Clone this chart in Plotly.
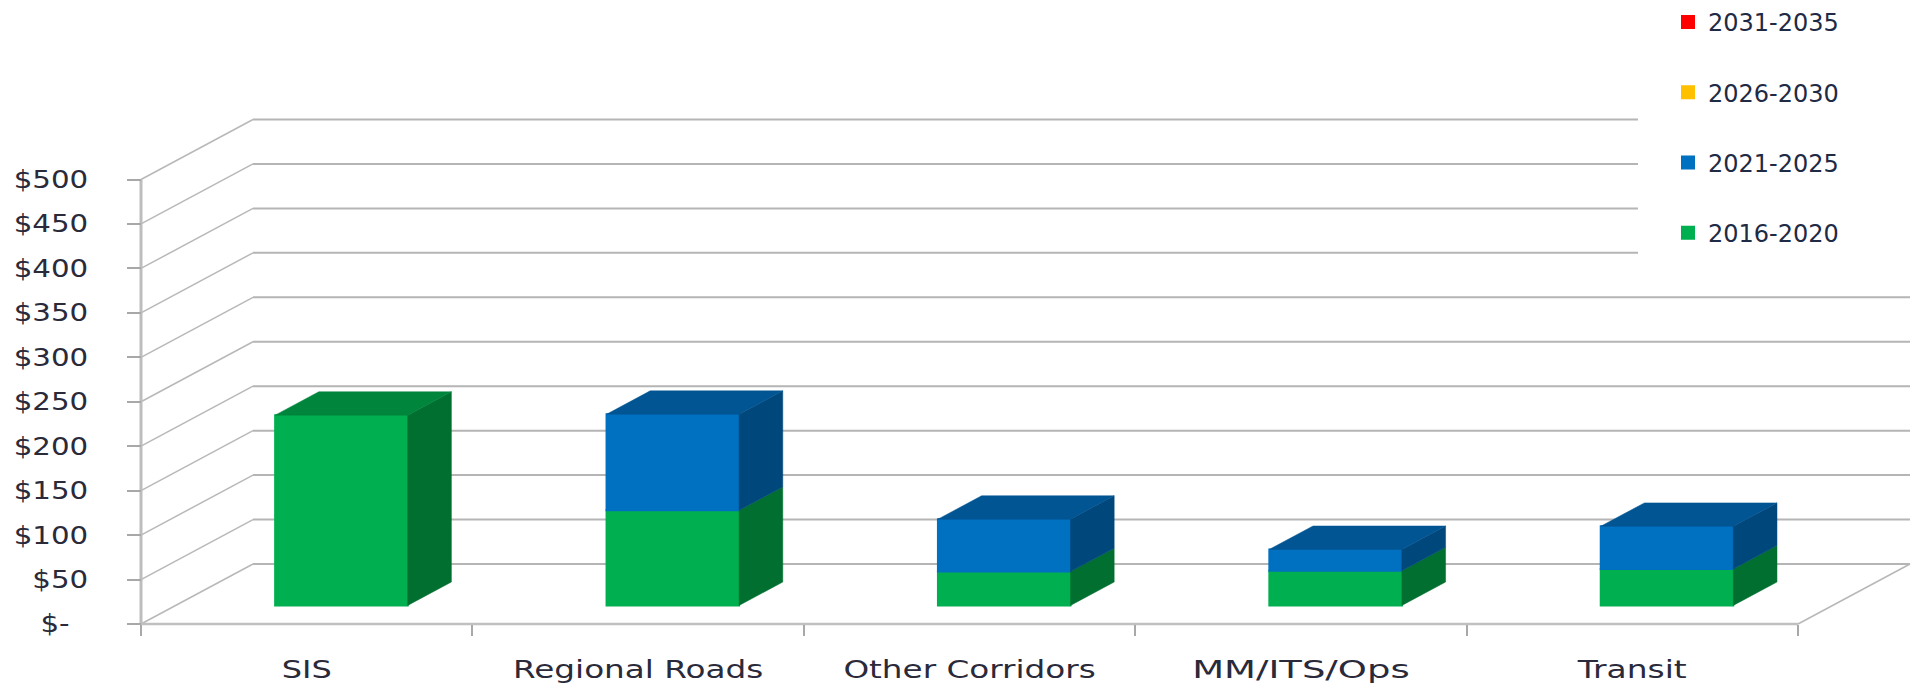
import plotly.graph_objects as go

categories = ["SIS", "Regional Roads", "Other Corridors", "MM/ITS/Ops", "Transit"]
periods = ["2016-2020", "2021-2025", "2026-2030", "2031-2035"]
v_2016_2020 = [214, 107, 38, 39, 41]
v_2021_2025 = [0, 108, 59, 24, 48]
v_2026_2030 = [0, 0, 0, 0, 0]
v_2031_2035 = [0, 0, 0, 0, 0]
series = [v_2016_2020, v_2021_2025, v_2026_2030, v_2031_2035]
y_ticks = [0, 50, 100, 150, 200, 250, 300, 350, 400, 450, 500]
y_labels = ["$-\u00a0\u00a0", "$50", "$100", "$150", "$200", "$250", "$300", "$350", "$400", "$450", "$500"]

front = ["#00B050", "#0070C0", "#FFC000", "#FF0000"]
side = ["#006F2F", "#00477C", "#A67C00", "#A60000"]
top = ["#00853D", "#005592", "#BF9000", "#BF0000"]

W, H = 1916, 683
X0, X5 = 141.0, 1798.0          # pixel span of the category axis
Y0, Y500 = 624.0, 179.5         # pixel span of the value axis
PXX = (X5 - X0) / 5
PXY = (Y0 - Y500) / 500
DX = 112 / PXX                  # full floor depth in axis units
DY = 60 / PXY
T0, T1 = 0.31, 0.70             # depth span of the bars
BAR_W = 0.40

def proj(x, v, t):
    return x + t * DX, v + t * DY

fig = go.Figure()

# front faces: real stacked bars (zero segments are left blank so they draw no outline)
cum = [0.0] * len(categories)
stacks = []
for s, vals in enumerate(series):
    base = list(cum)
    fig.add_trace(go.Bar(
        x=[i + 0.5 + T0 * DX for i in range(len(categories))],
        y=[v if v > 0 else None for v in vals],
        base=[b + T0 * DY for b in base],
        width=BAR_W,
        name=periods[s],
        legendgroup=periods[s],
        legendrank=len(periods) - s,
        marker=dict(color=front[s], line=dict(color=front[s], width=2)),
        hoverinfo="skip",
    ))
    stacks.append((base, vals))
    cum = [b + v for b, v in zip(base, vals)]

# side + top faces
for i in range(len(categories)):
    xl, xr = i + 0.5 - BAR_W / 2, i + 0.5 + BAR_W / 2
    last = 0
    for s, (base, vals) in enumerate(stacks):
        if vals[i] <= 0:
            continue
        last = s
        lo, hi = base[i], base[i] + vals[i]
        pts = [proj(xr, lo, T0), proj(xr, lo, T1), proj(xr, hi, T1), proj(xr, hi, T0), proj(xr, lo, T0)]
        fig.add_trace(go.Scatter(x=[p[0] for p in pts], y=[p[1] for p in pts], mode="lines",
                                 fill="toself", fillcolor=side[s], line=dict(color=side[s], width=0.5),
                                 showlegend=False, hoverinfo="skip"))
    hi = cum[i]
    pts = [proj(xl, hi, T0), proj(xl, hi, T1), proj(xr, hi, T1), proj(xr, hi, T0), proj(xl, hi, T0)]
    fig.add_trace(go.Scatter(x=[p[0] for p in pts], y=[p[1] for p in pts], mode="lines",
                             fill="toself", fillcolor=top[last], line=dict(color=top[last], width=0.5),
                             showlegend=False, hoverinfo="skip"))

# walls, floor and gridlines
shapes = []
GRID_COL = "#b5b5b5"
def seg(x0, y0, x1, y1, color=GRID_COL, width=2):
    shapes.append(dict(type="line", layer="below", xref="x", yref="y", x0=x0, y0=y0, x1=x1, y1=y1,
                       line=dict(color=color, width=width)))

END_SHORT = (1638 - X0) / PXX   # upper lines stop at the legend
END_LONG = 5 + DX
for v in y_ticks:
    seg(0, v, DX, v + DY, "#b8b8b8", 1.5)
    seg(DX, v + DY, END_SHORT if v >= 350 else END_LONG, v + DY)
seg(5, 0, 5 + DX, DY, "#b8b8b8", 1.5)
seg(0, 0, 5, 0, "#c0c0c0", 2.5)
seg(0, 0, 0, 500, "#bdbdbd", 3)

fig.update_layout(
    width=W, height=H,
    margin=dict(l=0, r=0, t=0, b=0),
    paper_bgcolor="white", plot_bgcolor="white",
    barmode="overlay",
    shapes=shapes,
    showlegend=True,
    legend=dict(x=1668 / W, xanchor="left", y=1, yanchor="top",
                traceorder="grouped", tracegroupgap=36,
                font=dict(family="DejaVu Sans", size=24, color="#1f2a44"),
                bgcolor="rgba(0,0,0,0)"),
    xaxis=dict(
        range=[(0 - X0) / PXX, (W - X0) / PXX],
        anchor="free", position=(H - Y0) / H,
        tickmode="array",
        tickvals=[i + 0.5 for i in range(len(categories))],
        ticktext=categories,
        ticks="", showgrid=False, zeroline=False, showline=False,
        ticklabelstandoff=29,
        tickfont=dict(family="DejaVu Sans", size=24, color="#2a2a3a"),
        minor=dict(tickmode="array", tickvals=[0, 1, 2, 3, 4, 5], ticks="outside",
                   ticklen=11, tickwidth=2, tickcolor="#a8a8a8", showgrid=False),
    ),
    yaxis=dict(
        range=[(Y0 - H) / PXY, Y0 / PXY],
        anchor="free", position=X0 / W,
        tickmode="array", tickvals=y_ticks, ticktext=y_labels,
        ticks="outside", ticklen=14, tickwidth=2, tickcolor="#a8a8a8",
        showgrid=False, zeroline=False, showline=False,
        ticklabelstandoff=34,
        tickfont=dict(family="DejaVu Sans", size=24, color="#2a2a3a"),
    ),
)

# the reference's lettering is horizontally stretched: widen tick labels with SVG textLength
post = """
document.body.style.margin='0';document.body.style.overflow='hidden';
var xf={'SIS':1.33,'Regional Roads':1.36,'Other Corridors':1.36,'MM/ITS/Ops':1.54,'Transit':1.37};
document.querySelectorAll('.xtick text').forEach(function(t){
  var f=xf[t.textContent]||1.36;
  t.setAttribute('textLength',t.getComputedTextLength()*f);
  t.setAttribute('lengthAdjust','spacingAndGlyphs');
});
document.querySelectorAll('.ytick text').forEach(function(t){
  t.setAttribute('textLength',t.getComputedTextLength()*1.22);
  t.setAttribute('lengthAdjust','spacingAndGlyphs');
});
"""
fig.write_html("out.html", post_script=post, config=dict(displayModeBar=False))
